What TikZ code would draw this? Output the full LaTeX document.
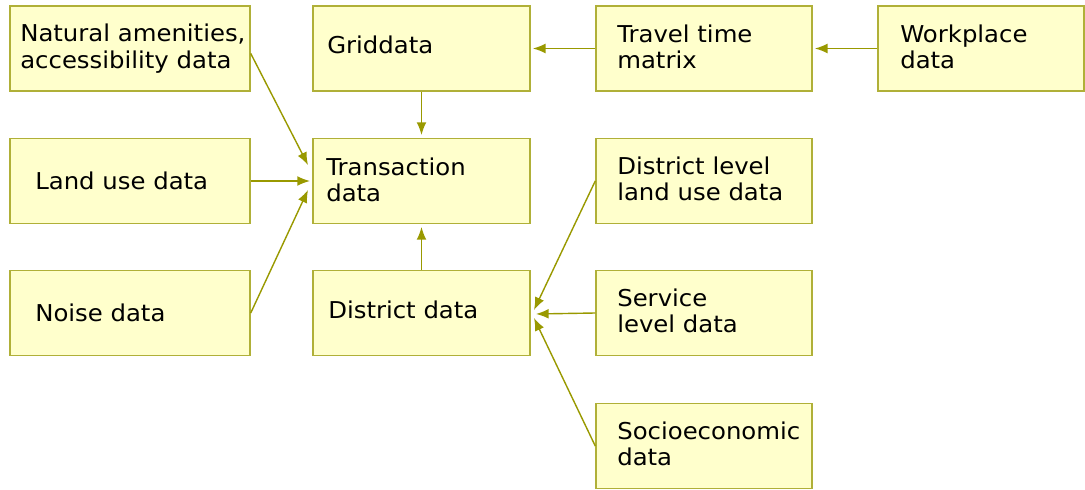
\documentclass[tikz,border=0pt]{standalone}
\usepackage{fontspec}
\setmainfont{DejaVu Sans}[FakeStretch=1.05]
\usetikzlibrary{arrows.meta}
\definecolor{boxfill}{HTML}{FFFFCC}
\definecolor{boxline}{HTML}{B0B038}
\definecolor{arrline}{HTML}{999900}

\begin{document}
\begin{tikzpicture}[x=0.025cm,y=-0.025cm,
  box/.style={draw=boxline,fill=boxfill,line width=1pt,minimum height=2.125cm,inner sep=0pt},
  txt/.style={anchor=west,align=left,inner sep=0pt,font=\fontsize{16.5}{18.8}\selectfont},
  arr/.style={draw=arrline,line width=1pt,-{Latex[length=9pt,width=7pt]}}]
\useasboundingbox (0,0) rectangle (1085,490);
% left column
\node[box,minimum width=6cm] (nat) at (130,48.5) {};
\node[box,minimum width=6cm] (land) at (130,181) {};
\node[box,minimum width=6cm] (noise) at (130,313) {};
\node[txt] (natt) at (20,48.5) {Natural amenities,\\accessibility data};
\node[txt] (landt) at (35,181) {Land use data};
\node[txt] (noiset) at (35,313) {Noise data};
% middle column
\node[box,minimum width=5.425cm] (grid) at (421.5,48.5) {};
\node[box,minimum width=5.425cm] (trans) at (421.5,181) {};
\node[box,minimum width=5.425cm] (dist) at (421.5,313) {};
\node[txt] (gridt) at (327,45) {Griddata};
\node[txt] (transt) at (326,180) {Transaction\\data};
\node[txt] (distt) at (328,310) {District data};
% right columns
\node[box,minimum width=5.4cm] (travel) at (704,48.5) {};
\node[box,minimum width=5.15cm] (work) at (981,48.5) {};
\node[box,minimum width=5.4cm] (dland) at (704,181) {};
\node[box,minimum width=5.4cm] (serv) at (704,313) {};
\node[box,minimum width=5.4cm] (socio) at (704,446) {};
\node[txt] (travelt) at (617,47) {Travel time\\matrix};
\node[txt] (workt) at (900,47) {Workplace\\data};
\node[txt] (dlandt) at (617,179) {District level\\land use data};
\node[txt] (servt) at (617,311) {Service\\level data};
\node[txt] (sociot) at (617,444) {Socioeconomic\\data};
% arrow ends
\coordinate (t1) at (308,165);
\coordinate (t2) at (310,181);
\coordinate (t3) at (308,190);
\coordinate (d1) at (534,310);
\coordinate (d2) at (536,314);
\coordinate (d3) at (534,318);
\draw[arr] (nat.east) ++(0,5) -- (t1);
\draw[arr] (land.east) -- (t2);
\draw[arr] (noise.east) -- (t3);
\draw[arr,shorten >=2pt] (grid.south) -- (trans.north);
\draw[arr,shorten >=2pt] (dist.north) -- (trans.south);
\draw[arr,shorten >=1.5pt] (travel.west) -- (grid.east);
\draw[arr,shorten >=1.5pt] (work.west) -- (travel.east);
\draw[arr] (dland.west) -- (d1);
\draw[arr] (serv.west) -- (d2);
\draw[arr] (socio.west) -- (d3);
\end{tikzpicture}
\end{document}
